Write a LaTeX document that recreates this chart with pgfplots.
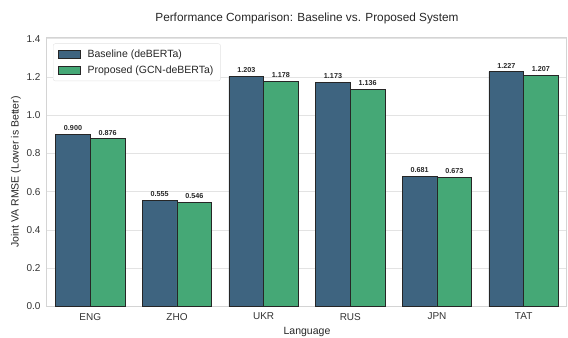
\documentclass[border=0pt]{standalone}
\usepackage{pgfplots}
\pgfplotsset{compat=1.18}
\usepackage{fontspec}
\setmainfont{Liberation Sans}
\definecolor{cbase}{HTML}{3E6480}
\definecolor{cprop}{HTML}{45A876}
\definecolor{gridc}{HTML}{E3E3E3}
\definecolor{framec}{HTML}{D4D4D4}
\begin{document}
\begin{tikzpicture}
\path[use as bounding box] (0,0) rectangle (568bp,338bp);
\begin{axis}[
  at={(47bp,31.5bp)}, anchor=south west,
  scale only axis, width=520bp, height=269bp,
  xmin=-0.5, xmax=5.5, ymin=0, ymax=1.406,
  xtick={0,1,2,3,4,5},
  xticklabels={ENG,ZHO,UKR,RUS,JPN,TAT},
  ytick={0,0.2,0.4,0.6,0.8,1.0,1.2,1.4},
  yticklabel style={/pgf/number format/fixed,/pgf/number format/fixed zerofill,/pgf/number format/precision=1, xshift=-3bp},
  /pgf/number format/assume math mode=true,
  tick style={draw=none},
  major tick length=0pt,
  ymajorgrids, grid style={gridc, line width=0.8bp},
  axis line style={framec, line width=1bp},
  ticklabel style={font=\fontsize{10bp}{12bp}\selectfont, text=black!80},
  xticklabel style={yshift=-3bp},
  xlabel={Language},
  ylabel={Joint VA RMSE (Lower is Better)},
  label style={font=\fontsize{10.5bp}{12bp}\selectfont, text=black!85},
  xlabel style={yshift=0bp},
  ylabel style={yshift=-1bp},
  title={Performance Comparison: Baseline vs. Proposed System},
  title style={font=\fontsize{11.8bp}{14bp}\selectfont, text=black!85, yshift=4bp},
  bar width=0.4,
  nodes near coords,
  nodes near coords style={font=\fontsize{7.2bp}{8bp}\selectfont\bfseries, text=black!85,
    /pgf/number format/fixed, /pgf/number format/fixed zerofill, /pgf/number format/precision=3},
  legend cell align=left,
  legend style={at={(0,1)}, anchor=north west, xshift=6bp, yshift=-6bp,
    draw=gridc, rounded corners=2bp, fill=white,
    font=\fontsize{10.5bp}{12bp}\selectfont, text=black!85,
    row sep=3bp, inner xsep=5bp, inner ysep=4bp},
  legend image code/.code={\draw[#1, sharp corners, line width=0.8bp] (0bp,-4bp) rectangle (22bp,4bp); \path[draw=none, fill=none] (0bp,0bp) -- (27bp,0bp);},
]
\addplot[ybar, bar shift=-0.2, fill=cbase, draw=black!85, line width=0.8bp,
  nodes near coords style={xshift=-17.33bp}]
  coordinates {(0,0.900) (1,0.555) (2,1.203) (3,1.173) (4,0.681) (5,1.227)};
\addlegendentry{Baseline (deBERTa)}
\addplot[ybar, bar shift=0.2, fill=cprop, draw=black!85, line width=0.8bp,
  nodes near coords style={xshift=17.33bp}]
  coordinates {(0,0.876) (1,0.546) (2,1.178) (3,1.136) (4,0.673) (5,1.207)};
\addlegendentry{Proposed (GCN-deBERTa)}
\end{axis}
\end{tikzpicture}
\end{document}
